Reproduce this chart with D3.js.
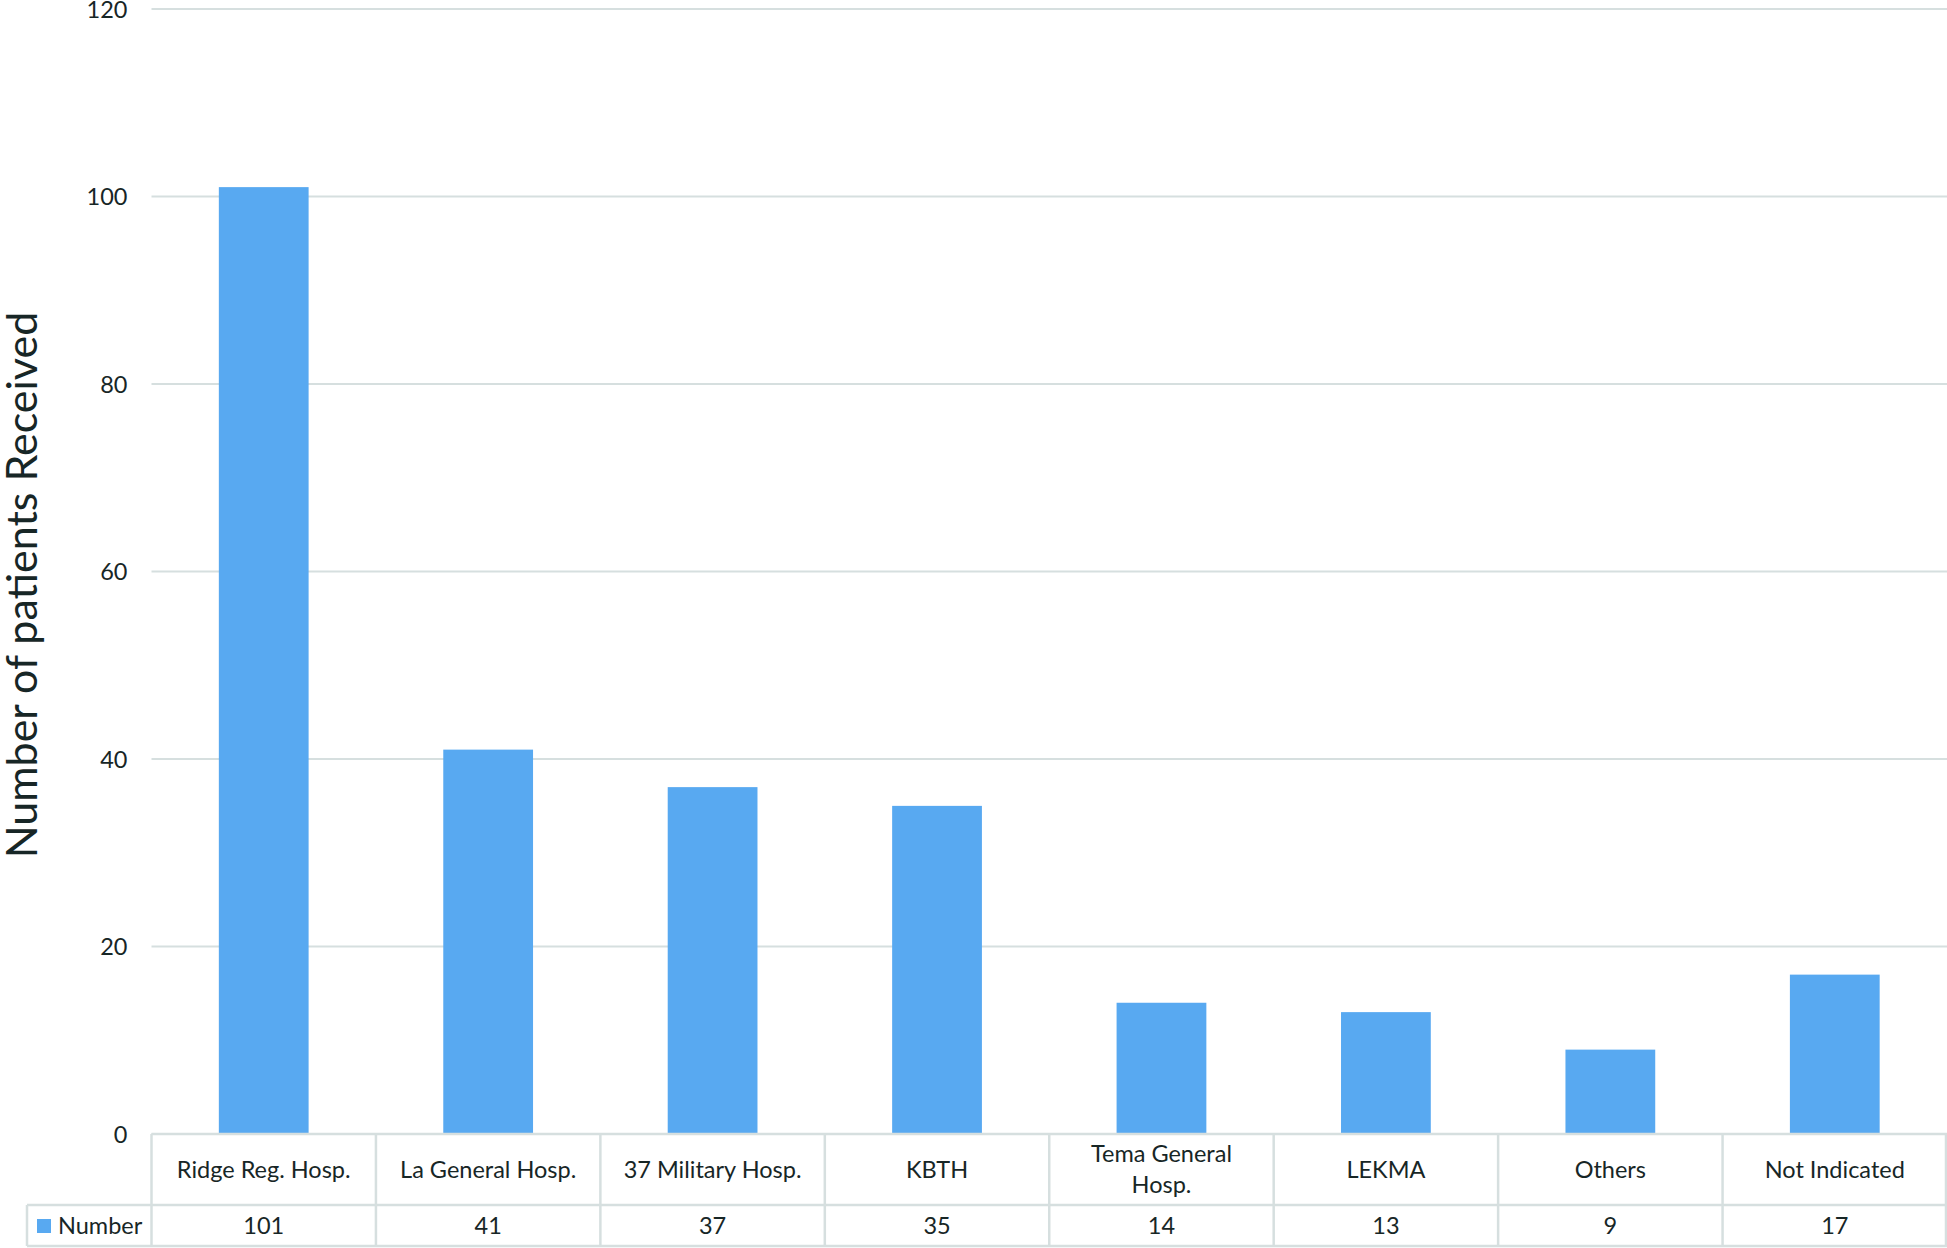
<!DOCTYPE html>
<html>
<head>
<meta charset="utf-8">
<script src="https://cdn.jsdelivr.net/npm/d3@7"></script>
<style>
  body { margin: 0; background: #fff; }
  text { font-family: Lato, "Open Sans", sans-serif; fill: #172626; }
</style>
</head>
<body>
<script>
"use strict";

let width = 1947;
let height = 1248;

let categories = ["Ridge Reg. Hosp.", "La General Hosp.", "37 Military Hosp.", "KBTH",
  "Tema General Hosp.", "LEKMA", "Others", "Not Indicated"];
let labelLines = [["Ridge Reg. Hosp."], ["La General Hosp."], ["37 Military Hosp."], ["KBTH"],
  ["Tema General", "Hosp."], ["LEKMA"], ["Others"], ["Not Indicated"]];
let values = [101, 41, 37, 35, 14, 13, 9, 17];
let yTicks = [0, 20, 40, 60, 80, 100, 120];
let seriesName = "Number";

let plotLeft = 151.5, plotRight = 1947, plotTop = 9, plotBottom = 1134;
let row1 = 1205, row2 = 1246;
let gridColor = "#d6dfdf";
let barColor = "#58a9f1";

let svg = d3.select("body").append("svg").attr("width", width).attr("height", height);

let x = d3.scaleBand().domain(categories).range([plotLeft, plotRight]).paddingInner(0).paddingOuter(0);
let y = d3.scaleLinear().domain([0, 120]).range([plotBottom, plotTop]);

// gridlines
svg.append("g").selectAll("line")
  .data(yTicks)
  .enter()
  .append("line")
  .attr("x1", plotLeft).attr("x2", plotRight)
  .attr("y1", d => y(d)).attr("y2", d => y(d))
  .attr("stroke", gridColor)
  .attr("stroke-width", 2);

// y axis labels
let yAxis = svg.append("g")
  .attr("transform", "translate(" + (plotLeft - 24) + ",0)")
  .call(d3.axisLeft(y).tickValues(yTicks).tickSize(0).tickPadding(0));
yAxis.select(".domain").remove();
yAxis.selectAll("text")
  .style("font-size", "23.5px")
  .style("font-family", "Lato, 'Open Sans', sans-serif")
  .attr("fill", "#172626")
  .attr("dy", "0.36em");

// y title
svg.append("text")
  .attr("transform", "translate(37," + 585 + ") rotate(-90)")
  .attr("text-anchor", "middle")
  .style("font-size", "43px")
  .text("Number of patients Received");

// bars
let barW = x.bandwidth() * 0.4;
svg.append("g").selectAll("rect")
  .data(values)
  .enter()
  .append("rect")
  .attr("x", (d, i) => x(categories[i]) + (x.bandwidth() - barW) / 2)
  .attr("y", d => y(d))
  .attr("width", barW)
  .attr("height", d => y(0) - y(d))
  .attr("fill", barColor);

// data table
let table = svg.append("g").attr("stroke", gridColor).attr("stroke-width", 2.5);
table.append("line").attr("x1", plotLeft).attr("x2", plotRight).attr("y1", plotBottom).attr("y2", plotBottom);
table.append("line").attr("x1", 27).attr("x2", plotRight).attr("y1", row1).attr("y2", row1);
table.append("line").attr("x1", 27).attr("x2", plotRight).attr("y1", row2).attr("y2", row2);
table.append("line").attr("x1", 27).attr("x2", 27).attr("y1", row1).attr("y2", row2);
table.selectAll(".col")
  .data(categories)
  .enter()
  .append("line")
  .attr("class", "col")
  .attr("x1", d => x(d)).attr("x2", d => x(d))
  .attr("y1", plotBottom).attr("y2", row2);
table.append("line").attr("x1", plotRight - 1).attr("x2", plotRight - 1).attr("y1", plotBottom).attr("y2", row2);

// category labels
let cat = svg.append("g").selectAll("text")
  .data(categories)
  .enter()
  .append("text")
  .attr("text-anchor", "middle")
  .attr("x", d => x(d) + x.bandwidth() / 2)
  .attr("y", (d, i) => (plotBottom + row1) / 2 - (labelLines[i].length - 1) * 15.5)
  .style("font-size", "23.5px");
cat.each(function (d, i) {
  let t = d3.select(this);
  labelLines[i].forEach((line, j) => {
    t.append("tspan")
      .attr("x", x(d) + x.bandwidth() / 2)
      .attr("dy", j === 0 ? "0.35em" : "31px")
      .text(line);
  });
});

// values row
svg.append("g").selectAll("text")
  .data(values)
  .enter()
  .append("text")
  .attr("text-anchor", "middle")
  .attr("x", (d, i) => x(categories[i]) + x.bandwidth() / 2)
  .attr("y", (row1 + row2) / 2)
  .attr("dy", "0.35em")
  .style("font-size", "23.5px")
  .text(d => d);

// legend key
svg.append("rect")
  .attr("x", 37).attr("y", 1219)
  .attr("width", 14).attr("height", 14)
  .attr("fill", barColor);
svg.append("text")
  .attr("x", 58).attr("y", (row1 + row2) / 2)
  .attr("dy", "0.35em")
  .style("font-size", "23.5px")
  .text(seriesName);
</script>
</body>
</html>
